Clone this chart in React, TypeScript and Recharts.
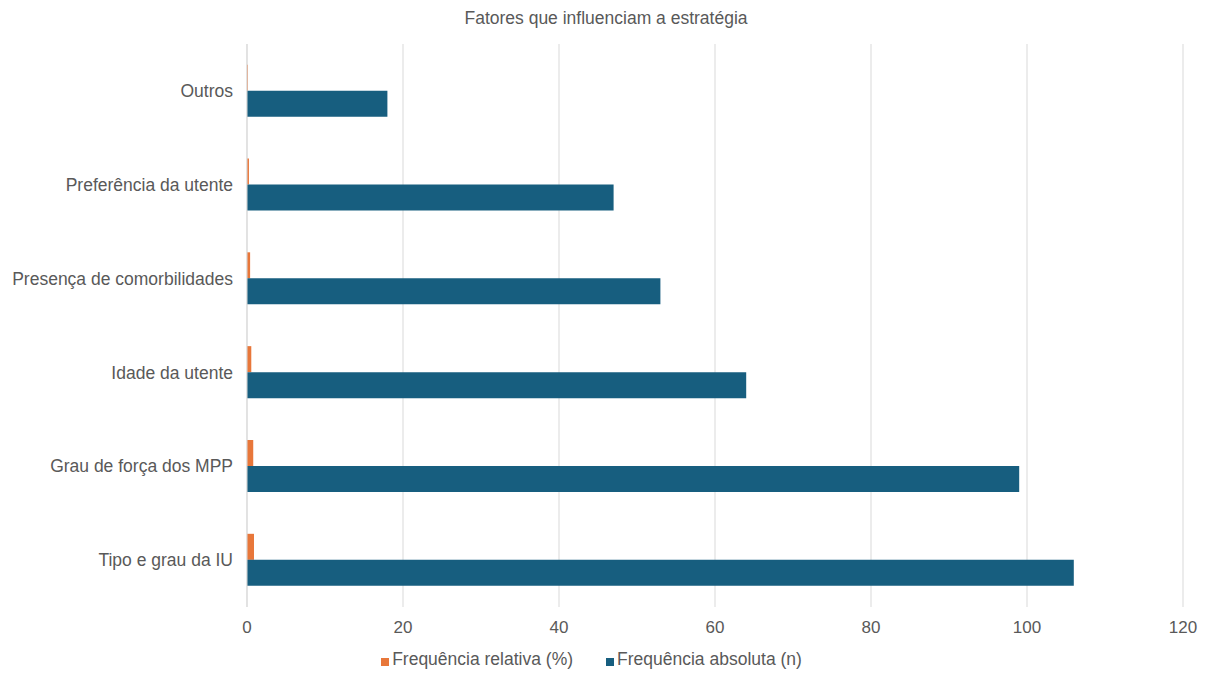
import { BarChart, Bar, XAxis, YAxis, CartesianGrid, Legend } from "recharts";

const FATORES = [
  "Outros",
  "Preferência da utente",
  "Presença de comorbilidades",
  "Idade da utente",
  "Grau de força dos MPP",
  "Tipo e grau da IU",
];
const FREQ_RELATIVA = [0.1, 0.25, 0.4, 0.55, 0.8, 0.9];
const FREQ_ABSOLUTA = [18, 47, 53, 64, 99, 106];
const X_TICKS = [0, 20, 40, 60, 80, 100, 120];

const COLORS = { relativa: "#e8773a", absoluta: "#175e7f" };
const TEXT = "#595959";
const FONT = "'Liberation Sans', Arial, sans-serif";

const data = FATORES.map((fator, i) => ({
  fator,
  relativa: FREQ_RELATIVA[i],
  absoluta: FREQ_ABSOLUTA[i],
}));

function LegendContent() {
  const items = [
    { label: "Frequência relativa (%)", color: COLORS.relativa },
    { label: "Frequência absoluta (n)", color: COLORS.absoluta },
  ];
  return (
    <div style={{ display: "flex", justifyContent: "center", gap: 33, height: 24, alignItems: "center" }}>
      {items.map((it) => (
        <span key={it.label} style={{ display: "flex", alignItems: "center", gap: 3, fontSize: 17.5, color: TEXT, fontFamily: FONT }}>
          {/* marker sits a little low, near the text baseline */}
          <span style={{ width: 8, height: 8, background: it.color, display: "inline-block", position: "relative", top: 3 }} />
          {it.label}
        </span>
      ))}
    </div>
  );
}

export default function App() {
  return (
    <div style={{ position: "absolute", left: 0, top: 0, width: 1212, height: 677, background: "#fff", fontFamily: FONT }}>
      <div style={{ position: "absolute", top: 8, left: 0, width: 1212, textAlign: "center", fontSize: 17.5, color: TEXT }}>
        Fatores que influenciam a estratégia
      </div>
      <BarChart
        width={1212}
        height={677}
        data={data}
        layout="vertical"
        margin={{ top: 44, right: 29, bottom: 6, left: 0 }}
        barCategoryGap="22%"
        barGap={0}
      >
        <CartesianGrid horizontal={false} stroke="#d9d9d9" />
        <XAxis
          type="number"
          domain={[0, 120]}
          ticks={X_TICKS}
          axisLine={false}
          tickLine={false}
          tickSize={0}
          tickMargin={14}
          height={40}
          tick={{ fill: TEXT, fontSize: 17, fontFamily: FONT }}
        />
        <YAxis
          type="category"
          dataKey="fator"
          width={247}
          axisLine={{ stroke: "#d9d9d9" }}
          tickLine={false}
          tickSize={0}
          tickMargin={14}
          tick={{ fill: TEXT, fontSize: 17.5, fontFamily: FONT }}
        />
        <Legend verticalAlign="bottom" content={<LegendContent />} />
        <Bar dataKey="relativa" name="Frequência relativa (%)" fill={COLORS.relativa} isAnimationActive={false} />
        <Bar dataKey="absoluta" name="Frequência absoluta (n)" fill={COLORS.absoluta} isAnimationActive={false} />
      </BarChart>
    </div>
  );
}
